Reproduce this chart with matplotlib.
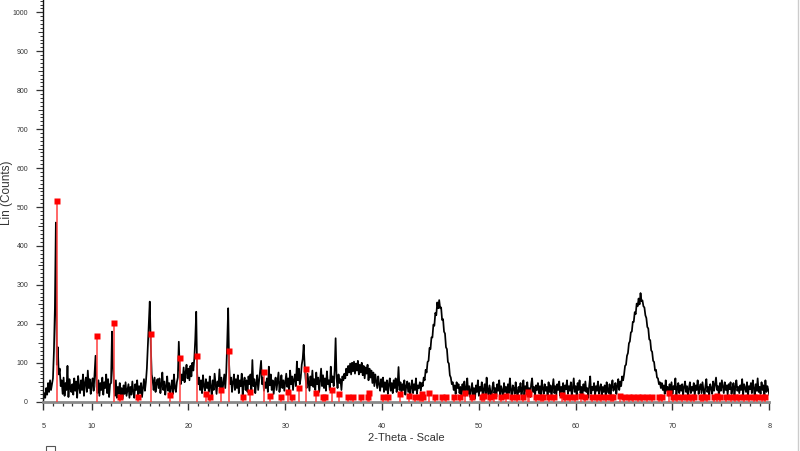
import numpy as np
import matplotlib
matplotlib.use("Agg")
import matplotlib.pyplot as plt
from matplotlib.ticker import MultipleLocator, FixedLocator
from matplotlib.lines import Line2D
from matplotlib.patches import Rectangle

plt.rcParams['font.family'] = ['Liberation Sans', 'DejaVu Sans']

# ---- measured pattern (2-theta from 5 deg, step 0.1 deg) ----
theta_start = 5.0
theta_step = 0.1
counts = [
    5, 22, 10, 35, 18, 48, 25, 55, 30, 45,          # 5
    60, 130, 240, 460, 95, 140, 70, 85, 40, 55,     # 6
    20, 62, 15, 48, 30, 92, 12, 58, 35, 25,         # 7
    45, 18, 60, 28, 52, 10, 66, 38, 22, 55,         # 8
    30, 70, 15, 48, 62, 25, 80, 35, 58, 20,         # 9
    45, 60, 28, 75, 118, 40, 22, 55, 15, 48,        # 10
    30, 62, 18, 50, 35, 70, 22, 58, 12, 45,         # 11
    48, 180, 90, 40, 15, 55, 10, 38, 20, 48,        # 12
    12, 35, 8, 42, 20, 50, 15, 30, 45, 10,          # 13
    38, 18, 52, 25, 10, 45, 30, 55, 15, 40,         # 14
    22, 48, 12, 35, 58, 28, 50, 85, 140, 200,       # 15
    257, 150, 70, 55, 30, 62, 25, 48, 58, 35,       # 16
    60, 22, 45, 75, 30, 52, 18, 40, 65, 28,         # 17
    48, 15, 38, 55, 20, 70, 35, 25, 50, 62,         # 18
    154, 80, 45, 70, 55, 88, 50, 75, 95, 60,        # 19
    85, 55, 92, 65, 100, 80, 110, 160, 231, 70,     # 20
    45, 62, 30, 55, 22, 68, 40, 28, 58, 35,         # 21
    50, 25, 65, 38, 18, 55, 30, 72, 45, 20,         # 22
    52, 40, 83, 30, 62, 25, 48, 70, 35, 75,         # 23
    150, 240, 95, 45, 62, 25, 50, 70, 30, 58,       # 24
    35, 68, 22, 55, 40, 72, 18, 50, 62, 30,         # 25
    55, 25, 65, 45, 70, 30, 107, 40, 58, 22,        # 26
    48, 68, 30, 55, 80, 105, 45, 62, 28, 50,        # 27
    35, 60, 25, 90, 42, 70, 30, 55, 20, 48,         # 28
    62, 30, 52, 75, 25, 45, 68, 35, 55, 28,         # 29
    50, 72, 38, 60, 25, 80, 45, 65, 30, 58,         # 30
    70, 40, 103, 55, 85, 45, 62, 95, 110, 146,      # 31
    95, 60, 35, 72, 50, 28, 65, 42, 80, 38,         # 32
    58, 30, 75, 45, 62, 25, 55, 85, 40, 68,         # 33
    35, 60, 28, 78, 45, 55, 30, 90, 50, 65,         # 34
    40, 80, 163, 60, 35, 70, 48, 58, 30, 65,        # 35
    55, 72, 60, 85, 68, 92, 75, 98, 70, 100,        # 36
    78, 103, 72, 98, 80, 105, 70, 95, 75, 100,      # 37
    68, 92, 60, 88, 72, 95, 55, 85, 62, 80,         # 38
    48, 75, 40, 70, 52, 35, 65, 45, 28, 58,         # 39
    38, 62, 25, 50, 30, 55, 20, 45, 60, 28,         # 40
    48, 22, 55, 35, 60, 25, 42, 89, 30, 50,         # 41
    20, 45, 30, 55, 18, 40, 52, 25, 48, 15,         # 42
    38, 55, 22, 45, 30, 60, 20, 42, 35, 50,         # 43
    28, 48, 40, 62, 55, 82, 75, 102, 105, 138,      # 44
    135, 165, 165, 198, 195, 228, 222, 255, 240, 261,  # 45
    240, 242, 210, 212, 180, 175, 140, 135, 102, 98,   # 46
    68, 62, 45, 50, 30, 42, 20, 50, 35, 45,         # 47
    22, 38, 10, 45, 28, 52, 15, 35, 60, 20,         # 48
    40, 12, 30, 48, 18, 35, 8, 42, 25, 55,          # 49
    15, 38, 28, 50, 10, 32, 45, 20, 62, 30,         # 50
    18, 42, 25, 8, 38, 50, 22, 35, 12, 45,          # 51
    28, 55, 15, 40, 30, 10, 48, 25, 38, 18,         # 52
    45, 22, 60, 30, 12, 42, 35, 20, 50, 28,         # 53
    10, 38, 25, 48, 18, 32, 55, 15, 40, 28,         # 54
    50, 20, 35, 12, 45, 60, 25, 38, 15, 42,         # 55
    30, 48, 22, 40, 10, 55, 35, 20, 45, 28,         # 56
    38, 15, 50, 25, 42, 12, 35, 58, 22, 40,         # 57
    18, 45, 30, 52, 15, 38, 25, 48, 10, 42,         # 58
    32, 55, 20, 40, 28, 50, 12, 36, 60, 25,         # 59
    40, 18, 48, 30, 55, 22, 38, 15, 45, 28,         # 60
    52, 25, 35, 10, 42, 65, 20, 38, 30, 48,         # 61
    15, 40, 28, 52, 20, 35, 45, 12, 38, 25,         # 62
    42, 18, 50, 30, 22, 45, 15, 38, 55, 28,         # 63
    35, 48, 20, 42, 58, 30, 52, 40, 65, 55,         # 64
    70, 92, 95, 118, 125, 150, 155, 178, 180, 205,  # 65
    205, 230, 225, 252, 245, 265, 250, 279, 258, 260,  # 66
    245, 242, 222, 215, 192, 188, 160, 158, 132, 128,  # 67
    105, 102, 80, 82, 62, 60, 45, 50, 35, 48,       # 68
    30, 42, 20, 55, 28, 38, 15, 45, 25, 50,         # 69
    20, 40, 32, 60, 15, 35, 48, 22, 42, 28,         # 70
    45, 18, 38, 52, 25, 40, 12, 35, 50, 22,         # 71
    38, 28, 48, 15, 42, 30, 55, 20, 35, 45,         # 72
    22, 50, 30, 12, 40, 58, 25, 38, 18, 45,         # 73
    35, 20, 52, 28, 45, 62, 30, 40, 15, 48,         # 74
    28, 55, 38, 22, 50, 30, 42, 18, 45, 32,         # 75
    50, 20, 35, 48, 12, 40, 55, 28, 38, 22,         # 76
    42, 30, 58, 18, 45, 35, 25, 50, 15, 40,         # 77
    32, 48, 22, 55, 35, 12, 45, 28, 60, 25,         # 78
    38, 20, 50, 30, 42, 15, 55, 25, 40, 30,         # 79
    18,                                             # 80
]

# ---- reference (stick) pattern ----
ref_pos = [6.45, 10.55, 12.3, 12.9, 14.8, 16.1, 18.05, 19.15, 20.9, 21.85,
           22.2, 23.4, 24.2, 25.6, 26.4, 27.75, 28.45, 29.6, 30.25, 30.7,
           31.45, 32.1, 33.15, 33.85, 34.1, 34.8, 35.5, 36.45, 36.95, 37.8,
           38.55, 38.7, 40.05, 40.6, 41.9, 42.75, 43.4, 43.95, 44.1, 44.25,
           44.85, 45.5, 46.2, 46.6, 47.4, 48.0, 48.55, 49.25, 50.3, 50.5,
           51.2, 51.6, 52.3, 52.8, 53.4, 53.95, 54.6, 55.1, 55.2, 55.9,
           56.4, 56.6, 57.2, 57.8, 58.6, 58.9, 59.4, 59.9, 60.6, 61.0,
           61.7, 62.2, 62.6, 63.1, 63.6, 63.9, 64.6, 65.0, 65.5, 65.9,
           66.4, 66.9, 67.4, 67.9, 68.6, 68.9, 69.6, 70.1, 70.5, 71.0,
           71.5, 71.9, 72.2, 72.9, 73.2, 73.6, 74.3, 74.6, 74.9, 75.5,
           76.0, 76.5, 76.9, 77.4, 77.9, 78.4, 78.7, 79.2, 79.6]
ref_int = [515, 169, 201, 11, 11, 175, 17, 111, 118, 20,
           11, 29, 130, 13, 25, 76, 15, 11, 26, 11,
           36, 83, 23, 13, 11, 30, 20, 13, 13, 11,
           13, 23, 11, 11, 20, 15, 11, 11, 20, 11,
           23, 11, 11, 11, 11, 13, 23, 11, 11, 15,
           11, 15, 11, 15, 11, 13, 11, 26, 20, 11,
           11, 13, 11, 11, 18, 11, 11, 11, 15, 11,
           11, 11, 13, 11, 11, 11, 15, 11, 13, 11,
           11, 11, 11, 11, 11, 11, 22, 13, 11, 11,
           13, 11, 11, 11, 13, 11, 11, 15, 11, 11,
           11, 13, 11, 11, 11, 11, 13, 11, 11]

x_ticks = [5, 10, 20, 30, 40, 50, 60, 70, 80]
x_tick_labels = ['5', '10', '20', '30', '40', '50', '60', '70', '8']
y_ticks = [0, 100, 200, 300, 400, 500, 600, 700, 800, 900, 1000]

two_theta = theta_start + theta_step * np.arange(len(counts))

fig = plt.figure(figsize=(8, 4.51), dpi=100)
ax = fig.add_axes([0.0541, 0.1093, 0.9075, 0.8907])

ax.plot(two_theta, counts, color='black', lw=1.25, zorder=2)
ax.vlines(ref_pos, 0, ref_int, color='#ff4040', lw=1.3, alpha=0.85, zorder=3)
ax.plot(ref_pos, ref_int, 's', color='#ff0000', ms=3.8, mec='none', zorder=4)

ax.set_xlim(5, 80)
ax.set_ylim(0, 1031.6)

for s in ('top', 'right'):
    ax.spines[s].set_visible(False)
ax.spines['left'].set_color('#111111')
ax.spines['left'].set_linewidth(1.0)
ax.spines['bottom'].set_color('#8a8a8a')
ax.spines['bottom'].set_linewidth(2.0)

ax.xaxis.set_major_locator(FixedLocator(x_ticks))
ax.set_xticklabels(x_tick_labels)
ax.xaxis.set_minor_locator(MultipleLocator(1))
ax.yaxis.set_major_locator(FixedLocator(y_ticks))
ax.yaxis.set_minor_locator(MultipleLocator(10))

ax.tick_params(axis='x', which='major', length=6, width=1, color='#333333',
               labelsize=5.2, labelcolor='#333333', pad=9)
ax.tick_params(axis='x', which='minor', length=3, width=0.9, color='#333333')
ax.tick_params(axis='y', which='major', length=5, width=0.9, color='#333333',
               labelsize=5, labelcolor='#333333', pad=6)
ax.tick_params(axis='y', which='minor', length=2.2, width=0.7, color='#333333')

minor_locs = ax.yaxis.get_minorticklocs()
for t, loc in zip(ax.yaxis.get_minor_ticks(len(minor_locs)), minor_locs):
    if abs(loc % 100 - 50) < 1e-6:
        t.tick1line.set_markersize(3.6)

ax.set_ylabel('Lin (Counts)', fontsize=8.5, color='#333333')
ax.yaxis.set_label_coords(-0.05, 0.52)
ax.yaxis.label.set_va('center')
ax.set_xlabel('2-Theta - Scale', fontsize=8, color='#333333')
ax.xaxis.set_label_coords(0.4996, -0.0896)
ax.xaxis.label.set_va('center')

fig.add_artist(Line2D([798 / 800, 798 / 800], [0, 1], transform=fig.transFigure,
                      color='#cccccc', lw=1))
fig.add_artist(Rectangle((46 / 800, -0.002), 9 / 800, 6 / 451, transform=fig.transFigure,
                         fill=False, ec='#555555', lw=0.8))

fig.savefig('out.png', dpi=100)
